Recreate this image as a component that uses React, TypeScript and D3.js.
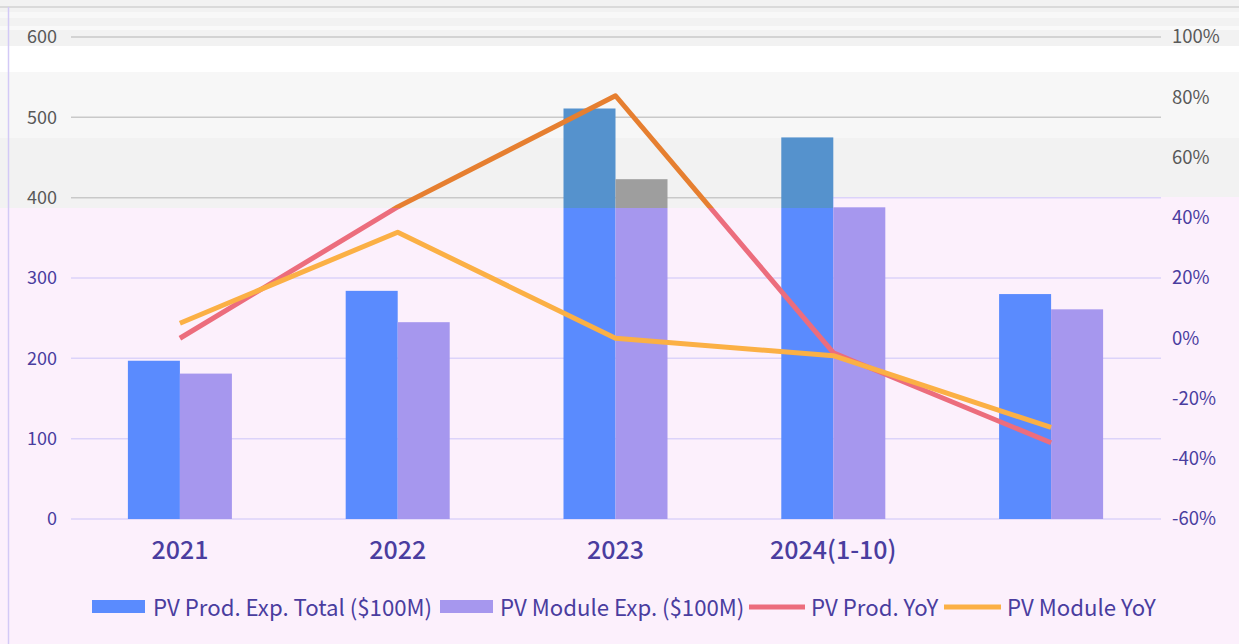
import React from "react";
import * as d3 from "d3";

// data
const categories = ["2021", "2022", "2023", "2024(1-10)", ""];
const prodExp = [197, 284, 511, 475, 280];
const moduleExp = [181, 245, 423, 388, 261];
const prodYoY = [0.0, 0.436, 0.805, -0.048, -0.347];
const moduleYoY = [0.05, 0.352, 0.0, -0.058, -0.296];
const leftTicks = [0, 100, 200, 300, 400, 500, 600];
const rightTicks = [-0.6, -0.4, -0.2, 0, 0.2, 0.4, 0.6, 0.8, 1];
const legendLabels = ["PV Prod. Exp. Total ($100M)", "PV Module Exp. ($100M)", "PV Prod. YoY", "PV Module YoY"];

const W = 1239;
const H = 644;
const FONT = "'Noto Sans CJK SC', 'Noto Sans', sans-serif";

const lower = {
  bg: "#fcf0fc",
  text: "#4a3d9f",
  grid: "#dcd3fa",
  bar1: "#5a8bfe",
  bar2: "#a697ee",
  line1: "#ec6d7d",
  line2: "#fbb045",
};
const upper = {
  bg: "#f2f2f2",
  text: "#595959",
  grid: "#c9c9c9",
  bar1: "#5592cd",
  bar2: "#9e9e9e",
  line1: "#e67f30",
  line2: "#f0a040",
};

const x0 = d3.scaleBand().domain(categories).range([71, 1160]).padding(0);
const x1 = d3.scaleBand().domain(["prod", "module"]).range([0, x0.bandwidth()]).paddingInner(0).paddingOuter(1.094);
const yL = d3.scaleLinear().domain([0, 600]).range([519, 37]);
const yR = d3.scaleLinear().domain([-0.6, 1]).range([519, 37]);
const cx = (c: string) => (x0(c) as number) + x0.bandwidth() / 2;
const pct = (v: number) => d3.format(".0%")(v).replace("\u2212", "-");

const line = d3
  .line<number>()
  .x((_, i) => cx(categories[i]))
  .y(d => yR(d));

function Chart({ p }: { p: typeof lower }) {
  return (
    <g fontFamily={FONT}>
      <rect x={0} y={0} width={W} height={H} fill={p.bg} />
      {p === upper && (
        <g>
          <rect x={0} y={72} width={W} height={66} fill="#f7f7f7" />
          <rect x={0} y={46} width={W} height={26} fill="#ffffff" />
          <rect x={0} y={12} width={W} height={6} fill="#f8f8f8" />
          <rect x={0} y={26} width={W} height={4} fill="#f9f9f9" />
        </g>
      )}
      {leftTicks.map(t => (
        <g key={t}>
          <line x1={71} x2={1161} y1={yL(t)} y2={yL(t)} stroke={p.grid} strokeWidth={1.5} />
          <text x={57} y={yL(t)} dy="0.35em" textAnchor="end" fontSize={18} fill={p.text}>
            {t}
          </text>
        </g>
      ))}
      {rightTicks.map(t => (
        <text key={t} x={1172} y={yR(t)} dy="0.35em" fontSize={18.5} fill={p.text}>
          {pct(t)}
        </text>
      ))}
      {categories.map((c, i) => (
        <g key={c + i} transform={`translate(${x0(c)},0)`}>
          <rect x={x1("prod")} y={yL(prodExp[i])} width={x1.bandwidth()} height={yL(0) - yL(prodExp[i])} fill={p.bar1} />
          <rect x={x1("module")} y={yL(moduleExp[i])} width={x1.bandwidth()} height={yL(0) - yL(moduleExp[i])} fill={p.bar2} />
        </g>
      ))}
      {categories.map((c, i) => (
        <text key={"l" + i} x={cx(c)} y={559} textAnchor="middle" fontSize={25} fontWeight={500} fill={p.text}>
          {c}
        </text>
      ))}
      <path d={line(prodYoY) || ""} fill="none" stroke={p.line1} strokeWidth={5} strokeLinejoin="round" />
      <path d={line(moduleYoY) || ""} fill="none" stroke={p.line2} strokeWidth={5} strokeLinejoin="round" />
      <g fontSize={22.2} fill={p.text}>
        <rect x={92} y={600} width={53} height={13} fill={p.bar1} />
        <text x={153} y={608} dy="0.35em">{legendLabels[0]}</text>
        <rect x={440} y={600} width={53} height={13} fill={p.bar2} />
        <text x={500} y={608} dy="0.35em">{legendLabels[1]}</text>
        <line x1={749} x2={805} y1={607} y2={607} stroke={p.line1} strokeWidth={5} />
        <text x={811} y={608} dy="0.35em">{legendLabels[2]}</text>
        <line x1={944} x2={1001} y1={607} y2={607} stroke={p.line2} strokeWidth={5} />
        <text x={1007} y={608} dy="0.35em">{legendLabels[3]}</text>
      </g>
    </g>
  );
}

export default function App() {
  return (
    <svg width={W} height={H} style={{ position: "absolute", left: 0, top: 0 }}>
      <defs>
        <clipPath id="upperClip">
          <polygon points={`0,0 ${W},0 ${W},197 833,197 833,208 0,208`} />
        </clipPath>
      </defs>
      <Chart p={lower} />
      <g clipPath="url(#upperClip)">
        <Chart p={upper} />
      </g>
      <line x1={0} x2={W} y1={7} y2={7} stroke="#d2d2d2" strokeWidth={1.5} />
      <line x1={8.5} x2={8.5} y1={7} y2={H} stroke="#d3c9f6" strokeWidth={1.5} />
    </svg>
  );
}
